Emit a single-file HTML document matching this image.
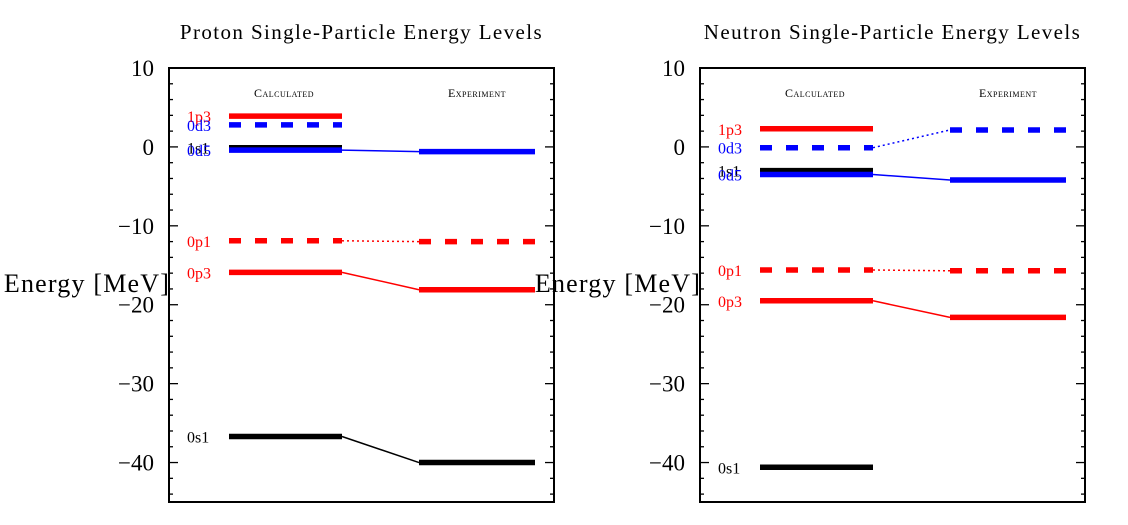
<!DOCTYPE html>
<html><head><meta charset="utf-8"><style>
html,body{margin:0;padding:0;background:#fff;width:1128px;height:525px;overflow:hidden}
svg text{font-family:"Liberation Serif",serif}
</style></head><body>
<svg id="chart" width="1128" height="525" xmlns="http://www.w3.org/2000/svg"></svg>
<script>
const levelNames = ["1p3","0d3","1s1","0d5","0p1","0p3","0s1"];
const levelColors = ["red","blue","black","blue","red","red","black"];
const levelDashed = [false,true,false,false,true,false,false];
const protonCalc = [3.9,2.8,-0.1,-0.4,-11.9,-15.9,-36.7];
const protonExp = [null,null,null,-0.6,-12.0,-18.1,-40.0];
const neutronCalc = [2.3,-0.1,-3.0,-3.5,-15.6,-19.5,-40.6];
const neutronExp = [null,2.15,null,-4.2,-15.7,-21.6,null];
const yTicks = [10,0,-10,-20,-30,-40];
const yMin = -45, yMax = 10;

const svg = document.getElementById('chart');
const NS = 'http://www.w3.org/2000/svg';
function mk(tag, attrs, parent){const e=document.createElementNS(NS,tag);for(const k in attrs)e.setAttribute(k,attrs[k]);(parent||svg).appendChild(e);return e;}

function panel(x0, title, calc, exp, key){
  const top=68,bottom=502,x1=x0+385;
  const yS=v=>top+(yMax-v)/(yMax-yMin)*(bottom-top);
  const g=mk('g',{});
  
  
  const t=mk('text',{x:(x0+x1)/2,y:39,'text-anchor':'middle','font-size':21,'letter-spacing':1.4},g);
  t.textContent=title;
  
  
  const yl=mk('text',{x:x0-82,y:292,'text-anchor':'middle','font-size':26,'letter-spacing':1.2},g);
  yl.textContent='Energy [MeV]';
  
  
  const box=mk('rect',{x:x0,y:top,width:385,height:bottom-top,fill:'none',stroke:'#000','stroke-width':2},g);
  
  
  for(let v=yMin+1; v<=yMax; v+=2){
    const y=yS(v);
    const major=(v%10===0);
    const len=major?9:4;
    mk('line',{x1:x0,x2:x0+len,y1:y,y2:y,stroke:'#000','stroke-width':1.3},g);
    mk('line',{x1:x1,x2:x1-len,y1:y,y2:y,stroke:'#000','stroke-width':1.3},g);
  }
  yTicks.forEach(v=>{
    const tl=mk('text',{x:x0-15,y:yS(v)+8,'text-anchor':'end','font-size':23},g);
    tl.textContent=(v<0?'\u2212'+(-v):String(v));
    
    
  });
  const h1=mk('text',{x:x0+115,y:97,'text-anchor':'middle','font-size':12,'font-variant':'small-caps','letter-spacing':0.5},g);
  h1.textContent='Calculated';
  
  
  const h2=mk('text',{x:x0+308,y:97,'text-anchor':'middle','font-size':12,'font-variant':'small-caps','letter-spacing':0.5},g);
  h2.textContent='Experiment';
  
  
  const cA=x0+60,cB=x0+173,eA=x0+250,eB=x0+366;
  levelNames.forEach((n,i)=>{
    const c=levelColors[i], d=levelDashed[i]?'12,14':null;
    if(calc[i]!==null){
      const y=yS(calc[i]);
      const l=mk('line',{x1:cA,x2:cB,y1:y,y2:y,stroke:c,'stroke-width':5.5},g);
      if(d) l.setAttribute('stroke-dasharray',d);
      
      
      const lb=mk('text',{x:x0+18,y:y+6,'font-size':16,fill:c},g);
      lb.textContent=n;
      
      
    }
    if(exp[i]!==null){
      const y=yS(exp[i]);
      const l=mk('line',{x1:eA,x2:eB,y1:y,y2:y,stroke:c,'stroke-width':5.5},g);
      if(d) l.setAttribute('stroke-dasharray',d);
      
      
      if(calc[i]!==null){
        const cn=mk('line',{x1:cB,x2:eA,y1:yS(calc[i]),y2:y,stroke:c,'stroke-width':1.5},g);
        if(d) cn.setAttribute('stroke-dasharray','2,3');
        
        
      }
    }
  });
}
panel(169,'Proton Single-Particle Energy Levels',protonCalc,protonExp,'proton');
panel(700,'Neutron Single-Particle Energy Levels',neutronCalc,neutronExp,'neutron');
</script>
</body></html>
